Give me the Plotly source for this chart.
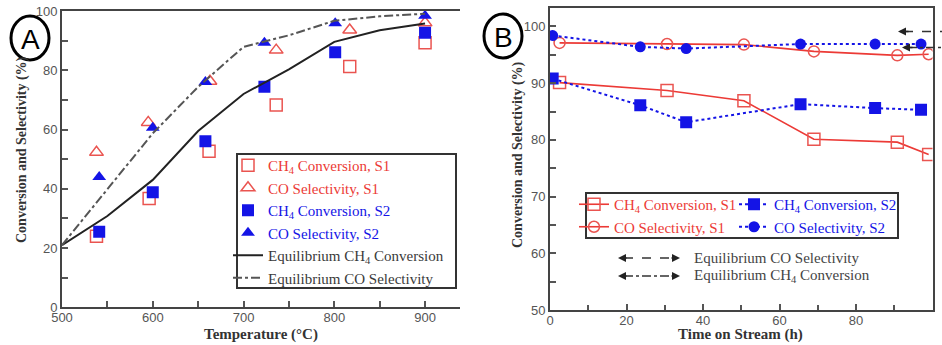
import plotly.graph_objects as go

# ---------------- Data: panel A (temperature) ----------------
temp_ch4_s1 = [538, 596, 662, 736, 817, 900]
ch4_conv_s1_A = [24, 36.7, 52.7, 68.3, 81.3, 89.3]
temp_co_s1 = [538, 595, 663, 736, 817, 900]
co_sel_s1_A = [52.3, 62.4, 76.3, 86.8, 93.6, 96]
temp_s2 = [541, 600, 658, 723, 801, 900]
ch4_conv_s2_A = [25.5, 38.8, 56, 74.4, 86.1, 92.7]
co_sel_s2_A = [44, 60.6, 76, 89.3, 95.9, 98.4]

temp_eq = [500, 550, 600, 650, 700, 750, 800, 850, 900]
eq_ch4_conv = [21, 30.8, 43, 59.5, 72, 80.3, 89.6, 93.5, 95.8]
eq_co_sel = [21, 40, 58.7, 74.4, 87.9, 91.8, 96.7, 98.2, 99.1]

# ---------------- Data: panel B (time on stream) ----------------
time_s1 = [2.5, 30.6, 50.7, 69, 90.8, 99]
ch4_conv_s1_B = [90.1, 88.7, 86.9, 80.1, 79.6, 77.4]
co_sel_s1_B = [97.1, 96.9, 96.8, 95.6, 94.9, 95.1]
time_s2 = [0.7, 23.6, 35.6, 65.5, 85, 97]
ch4_conv_s2_B = [90.8, 86.1, 83.1, 86.3, 85.6, 85.3]
co_sel_s2_B = [98.4, 96.4, 96.1, 96.9, 96.9, 96.9]

eq_labels_B = ["Equilibrium CO Selectivity", "Equilibrium CH<sub>4</sub> Conversion"]
eq_values_B = [99.1, 96.3]

W, H = 942, 345
def px(x):
    return x / W
def py(y):
    return 1 - y / H

RED = "#ec3a36"
RED_M = "#ea5450"
BLUE = "#1414e6"
DARK = "#3a3a3a"
SERIF = "Liberation Serif"
SANS = "Liberation Sans"

def lab(text, color):
    return f'<span style="color:{color}">{text}</span>'

fig = go.Figure()

# Panel A traces
fig.add_trace(go.Scatter(x=temp_ch4_s1, y=ch4_conv_s1_A, mode="markers",
    name=lab("CH<sub>4</sub> Conversion, S1", RED),
    marker=dict(symbol="square-open", size=12, color=RED_M, line=dict(width=1.5)),
    xaxis="x", yaxis="y", legend="legend"))
fig.add_trace(go.Scatter(x=temp_co_s1, y=co_sel_s1_A, mode="markers",
    name=lab("CO Selectivity, S1", RED),
    marker=dict(symbol="triangle-up-open", size=12, color=RED_M, line=dict(width=1.5)),
    xaxis="x", yaxis="y", legend="legend"))
fig.add_trace(go.Scatter(x=temp_s2, y=ch4_conv_s2_A, mode="markers",
    name=lab("CH<sub>4</sub> Conversion, S2", BLUE),
    marker=dict(symbol="square", size=12, color=BLUE),
    xaxis="x", yaxis="y", legend="legend"))
fig.add_trace(go.Scatter(x=temp_s2, y=co_sel_s2_A, mode="markers",
    name=lab("CO Selectivity, S2", BLUE),
    marker=dict(symbol="triangle-up", size=12, color=BLUE),
    xaxis="x", yaxis="y", legend="legend"))
fig.add_trace(go.Scatter(x=temp_eq, y=eq_ch4_conv, mode="lines",
    name=lab("Equilibrium CH<sub>4</sub> Conversion", DARK),
    line=dict(color="#222222", width=2),
    xaxis="x", yaxis="y", legend="legend"))
fig.add_trace(go.Scatter(x=temp_eq, y=eq_co_sel, mode="lines",
    name=lab("Equilibrium CO Selectivity", DARK),
    line=dict(color="#555555", width=2, dash="dashdot"),
    xaxis="x", yaxis="y", legend="legend"))

# Panel B traces
fig.add_trace(go.Scatter(x=time_s1, y=ch4_conv_s1_B, mode="lines+markers",
    name=lab("CH<sub>4</sub> Conversion, S1", RED),
    line=dict(color=RED, width=1.6),
    marker=dict(symbol="square-open", size=12, color=RED_M, line=dict(width=1.5)),
    xaxis="x2", yaxis="y2", legend="legend2"))
fig.add_trace(go.Scatter(x=time_s1, y=co_sel_s1_B, mode="lines+markers",
    name=lab("CO Selectivity, S1", RED),
    line=dict(color=RED, width=1.6),
    marker=dict(symbol="circle-open", size=11, color=RED_M, line=dict(width=1.5)),
    xaxis="x2", yaxis="y2", legend="legend2"))
fig.add_trace(go.Scatter(x=time_s2, y=ch4_conv_s2_B, mode="lines+markers",
    name=lab("CH<sub>4</sub> Conversion, S2", BLUE),
    line=dict(color=BLUE, width=2, dash="dot"),
    marker=dict(symbol="square", size=12, color=BLUE),
    xaxis="x2", yaxis="y2", legend="legend3"))
fig.add_trace(go.Scatter(x=time_s2, y=co_sel_s2_B, mode="lines+markers",
    name=lab("CO Selectivity, S2", BLUE),
    line=dict(color=BLUE, width=2, dash="dot"),
    marker=dict(symbol="circle", size=11, color=BLUE),
    xaxis="x2", yaxis="y2", legend="legend3"))

axis_common = dict(showline=True, linecolor="#444", linewidth=2, showgrid=False,
                   zeroline=False, ticks="inside", ticklen=6, tickwidth=1.5,
                   automargin=False,
                   tickcolor="#555", tickfont=dict(family=SANS, size=13, color="#555"))

fig.update_layout(
    template="none",
    width=W, height=H, margin=dict(l=0, r=0, t=0, b=0, pad=0), autosize=False,
    paper_bgcolor="white", plot_bgcolor="white",
    xaxis=dict(domain=[px(62), px(460)], range=[500, 938.5], dtick=100, anchor="y",
               mirror=True, ticklabelstandoff=-3,
               minor=dict(dtick=50, ticks="inside", ticklen=6, tickcolor="#555"),
               **axis_common),
    yaxis=dict(domain=[py(307.3), py(11)], range=[0, 100], dtick=20, anchor="x",
               minor=dict(dtick=10, ticks="inside", ticklen=6, tickcolor="#555"),
               **axis_common),
    xaxis2=dict(domain=[px(550), px(932.5)], range=[0, 100], dtick=20, anchor="y2",
                mirror=True, ticklabelstandoff=-3,
                minor=dict(dtick=10, ticks="inside", ticklen=5, tickcolor="#555"),
                **axis_common),
    yaxis2=dict(domain=[py(310), py(8.3)], range=[50, 103.2], dtick=10, anchor="x2",
                mirror=True, minor=dict(dtick=5, ticks="inside", ticklen=6, tickcolor="#555"),
                **axis_common),
    legend=dict(x=px(228), y=py(149), xanchor="left", yanchor="top",
                bgcolor="rgba(0,0,0,0)", borderwidth=0,
                font=dict(family=SERIF, size=15, color=DARK), tracegroupgap=0),
    legend2=dict(x=px(574), y=py(188), xanchor="left", yanchor="top",
                 bgcolor="rgba(0,0,0,0)", borderwidth=0,
                 font=dict(family=SERIF, size=15, color=DARK), tracegroupgap=0),
    legend3=dict(x=px(734), y=py(188), xanchor="left", yanchor="top",
                 bgcolor="rgba(0,0,0,0)", borderwidth=0,
                 font=dict(family=SERIF, size=15, color=DARK), tracegroupgap=0),
    showlegend=True,
)

shapes = []
annotations = []

# legend boxes
shapes.append(dict(type="rect", xref="paper", yref="paper",
                   x0=px(237), x1=px(456), y0=py(288), y1=py(154),
                   line=dict(color="#333", width=2), fillcolor="white", layer="below"))
shapes.append(dict(type="rect", xref="paper", yref="paper",
                   x0=px(586), x1=px(898), y0=py(238), y1=py(193),
                   line=dict(color="#333", width=2), fillcolor="rgba(0,0,0,0)", layer="below"))

def note(x, y, text, size, family=SERIF, color="#333", angle=0, xanchor="center"):
    return dict(x=px(x), y=py(y), xref="paper", yref="paper", showarrow=False,
                xanchor=xanchor, yanchor="middle", textangle=angle, text=text,
                font=dict(family=family, size=size, color=color))

# circled panel labels
for cx, cy, letter in [(30, 38, "A"), (503, 36, "B")]:
    shapes.append(dict(type="circle", xref="paper", yref="paper",
                       x0=px(cx - 19), x1=px(cx + 19), y0=py(cy + 22), y1=py(cy - 22),
                       line=dict(color="black", width=3)))
    annotations.append(note(cx, cy + 1, letter, 28, family=SANS, color="black"))

# axis titles
annotations += [
    note(261, 334, "<b>Temperature (°C)</b>", 15),
    note(22, 150, "<b>Conversion and Selectivity (%)</b>", 14, angle=-90),
    note(740, 334, "<b>Time on Stream (h)</b>", 15),
    note(518, 155, "<b>Conversion and Selectivity (%)</b>", 14, angle=-90),
]

dashes = ["dash", "dashdot"]
# equilibrium arrows at right edge of panel B
for val, d, xh in zip(eq_values_B, dashes, [898, 902]):
    shapes.append(dict(type="line", xref="paper", yref="y2",
                       x0=px(xh + 6), x1=1.0, y0=val, y1=val,
                       line=dict(color="#333", width=1.6, dash=d)))
    annotations.append(dict(x=px(xh), y=val, xref="paper", yref="y2",
                            ax=12, ay=0, text="", showarrow=True,
                            arrowhead=2, arrowsize=1, arrowwidth=1.6, arrowcolor="#222"))

# legend of equilibrium arrows in panel B
for i, (label, d) in enumerate(zip(eq_labels_B, dashes)):
    yy = 258 + i * 18
    shapes.append(dict(type="line", xref="paper", yref="paper",
                       x0=px(624), x1=px(674), y0=py(yy), y1=py(yy),
                       line=dict(color="#333", width=1.6, dash=d)))
    annotations.append(dict(x=px(618), y=py(yy), xref="paper", yref="paper",
                            ax=10, ay=0, text="", showarrow=True,
                            arrowhead=2, arrowsize=1, arrowwidth=1.6, arrowcolor="#222"))
    annotations.append(dict(x=px(680), y=py(yy), xref="paper", yref="paper",
                            ax=-10, ay=0, text="", showarrow=True,
                            arrowhead=2, arrowsize=1, arrowwidth=1.6, arrowcolor="#222"))
    annotations.append(note(692, yy, label, 15, color="#444", xanchor="left"))

fig.update_layout(shapes=shapes, annotations=annotations)

fig.write_html("out.html")
